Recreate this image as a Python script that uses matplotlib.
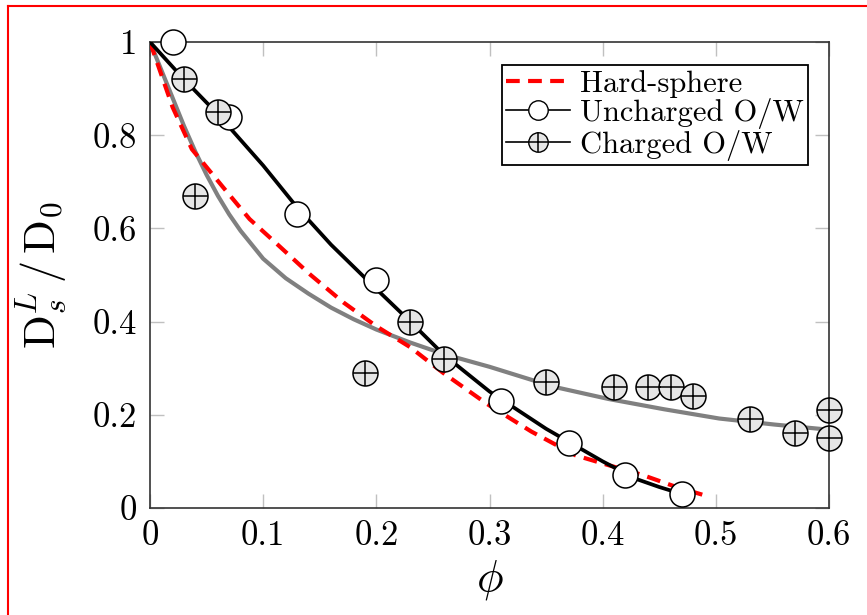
import numpy as np
import matplotlib
matplotlib.use("Agg")
import matplotlib.pyplot as plt
from matplotlib.lines import Line2D
from matplotlib.legend_handler import HandlerTuple

plt.rcParams['font.family'] = 'serif'
plt.rcParams['font.serif'] = ['cmr10']
plt.rcParams['mathtext.fontset'] = 'cm'
plt.rcParams['axes.formatter.use_mathtext'] = True

# measured points
unch_phi = [0.02, 0.07, 0.13, 0.20, 0.31, 0.37, 0.42, 0.47]
unch_d = [1.00, 0.84, 0.63, 0.49, 0.23, 0.14, 0.07, 0.03]

ch_phi = [0.03, 0.04, 0.06, 0.19, 0.23, 0.26, 0.35, 0.41, 0.44, 0.46, 0.48, 0.53, 0.57, 0.60, 0.60]
ch_d = [0.92, 0.67, 0.85, 0.29, 0.40, 0.32, 0.27, 0.26, 0.26, 0.26, 0.24, 0.19, 0.16, 0.21, 0.15]

# curves
hs_phi = [0.0, 0.01, 0.02, 0.037, 0.064, 0.088, 0.112, 0.142, 0.171, 0.2, 0.23, 0.259,
          0.298, 0.337, 0.376, 0.405, 0.435, 0.464, 0.493]
hs_d = [1.0, 0.93, 0.86, 0.77, 0.69, 0.62, 0.567, 0.50, 0.441, 0.39, 0.345, 0.29,
        0.223, 0.164, 0.113, 0.092, 0.071, 0.046, 0.025]

unch_fit_phi = [0.0, 0.03, 0.06, 0.08, 0.1, 0.115, 0.13, 0.16, 0.2, 0.23, 0.26, 0.3,
                0.35, 0.4, 0.43, 0.45, 0.47]
unch_fit_d = [1.0, 0.92, 0.845, 0.79, 0.735, 0.69, 0.645, 0.565, 0.47, 0.40, 0.328, 0.25,
              0.17, 0.10, 0.062, 0.045, 0.03]

ch_fit_phi = [0.0, 0.01, 0.02, 0.03, 0.04, 0.05, 0.06, 0.07, 0.08, 0.09, 0.1, 0.12, 0.14,
              0.16, 0.18, 0.2, 0.23, 0.26, 0.3, 0.357, 0.405, 0.454, 0.503, 0.552, 0.6]
ch_fit_d = [1.0, 0.94, 0.88, 0.82, 0.765, 0.715, 0.67, 0.63, 0.595, 0.565, 0.535, 0.493,
            0.46, 0.43, 0.405, 0.383, 0.355, 0.33, 0.303, 0.26, 0.234, 0.212, 0.192, 0.179, 0.168]

xticks = [0, 0.1, 0.2, 0.3, 0.4, 0.5, 0.6]
xticklabels = ['0', '0.1', '0.2', '0.3', '0.4', '0.5', '0.6']
yticks = [0, 0.2, 0.4, 0.6, 0.8, 1.0]
yticklabels = ['0', '0.2', '0.4', '0.6', '0.8', '1']

fig = plt.figure(figsize=(8.67, 6.15), dpi=100)
ax = fig.add_axes([0.173, 0.174, 0.7832, 0.7577])

ax.plot(ch_fit_phi, ch_fit_d, color='#808080', lw=3.0, zorder=2)
ax.plot(hs_phi, hs_d, color='red', lw=3, dashes=(3.3, 2.0), zorder=3)
ax.plot(unch_fit_phi, unch_fit_d, color='black', lw=2.7, zorder=4)

ms = 18
ax.plot(unch_phi, unch_d, 'o', ms=ms, mfc='white', mec='black', mew=1.1,
        zorder=5, clip_on=False)
ax.plot(ch_phi, ch_d, 'o', ms=ms, mfc='#e6e6e6', mec='black', mew=1.1,
        zorder=6, clip_on=False)
ax.plot(ch_phi, ch_d, '+', ms=ms, mec='black', mew=1.1, zorder=7, clip_on=False)

ax.set_xlim(0, 0.6)
ax.set_ylim(0, 1)
ax.set_xticks(xticks)
ax.set_xticklabels(xticklabels)
ax.set_yticks(yticks)
ax.set_yticklabels(yticklabels)
ax.tick_params(direction='in', length=10, width=1, color='#c0c0c0',
               top=True, right=True, labelsize=25, pad=9)
for s in ax.spines.values():
    s.set_color('#333333')
    s.set_linewidth(1.2)

ax.set_xlabel(r'$\phi$', fontsize=32, labelpad=4)
ax.set_ylabel(r'$\mathrm{D}_s^L\,/\,\mathrm{D}_0$', fontsize=32, labelpad=18)

h_hs = Line2D([], [], color='red', lw=3, dashes=(3.3, 2.0))
h_un = Line2D([], [], color='black', lw=1.2, marker='o', ms=14, mfc='white', mec='black')
h_ch1 = Line2D([], [], color='black', lw=1.2, marker='o', ms=14, mfc='#e6e6e6', mec='black')
h_ch2 = Line2D([], [], ls='none', marker='+', ms=14, mec='black', mew=1.1)
leg = ax.legend([h_hs, h_un, (h_ch1, h_ch2)],
                ['Hard-sphere', 'Uncharged O/W', 'Charged O/W'],
                handler_map={tuple: HandlerTuple(ndivide=1)},
                loc='upper right', bbox_to_anchor=(0.969, 0.9506), borderaxespad=0,
                fontsize=22, fancybox=False, framealpha=1, edgecolor='black',
                handlelength=2.1, handletextpad=0.3, labelspacing=0.02,
                borderpad=0.15)
leg.get_frame().set_linewidth(1.3)

# red frame around the picture
fig.add_artist(Line2D([8 / 867, 8 / 867], [0, 1 - 6 / 615], color='red', lw=1.5))
fig.add_artist(Line2D([8 / 867, 1], [1 - 6 / 615, 1 - 6 / 615], color='red', lw=1.5))

fig.savefig('out.png', dpi=100)
